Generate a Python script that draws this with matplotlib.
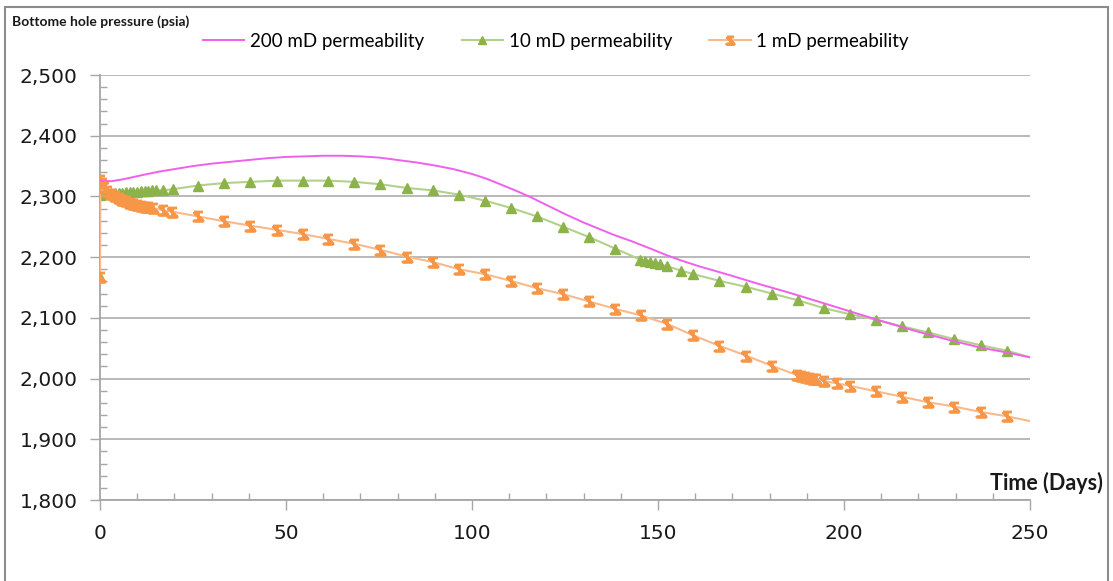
import matplotlib
matplotlib.use('Agg')
import matplotlib.pyplot as plt
from matplotlib.path import Path
from matplotlib.patches import Rectangle
from matplotlib.ticker import MultipleLocator, FuncFormatter

# 200 mD permeability (smooth line, no markers)
k200_days = [0, 3, 6, 9, 12, 16, 20, 25, 30, 35, 40, 45, 50, 55, 60, 65, 70,
             75, 80, 85, 90, 95, 100, 104, 108, 112, 116, 120, 125, 130, 134,
             138, 143, 148, 152, 156, 161, 165, 170, 177, 185, 193, 202, 211,
             220, 228, 236.7, 243.7, 250]
k200_psia = [2326, 2325, 2328, 2332, 2336, 2341, 2345, 2350, 2354, 2357,
             2360, 2363, 2365, 2366, 2367, 2367, 2366, 2364, 2360, 2356,
             2351, 2345, 2337, 2329, 2319, 2309, 2298, 2286, 2271, 2257,
             2247, 2237, 2226, 2214, 2204, 2195, 2185, 2178, 2169, 2156,
             2142, 2127, 2110, 2093, 2077, 2064, 2051, 2043, 2035]

# 10 mD permeability
k10_days = [0, 0, 1, 2, 3, 4, 5, 6, 7, 8, 9, 10, 11, 12, 13, 14, 15, 17, 19.7,
            26.4, 33.4, 40.3, 47.5, 54.5, 61.4, 68.4, 75.4, 82.4, 89.4, 96.5,
            103.5, 110.5, 117.5, 124.5, 131.5, 138.5, 145.2, 146.5, 147.9,
            149.2, 150.5, 152.4, 156.2, 159.5, 166.5, 173.7, 180.6, 187.6,
            194.6, 201.6, 208.6, 215.6, 222.6, 229.6, 236.7, 243.7, 250]
k10_psia = [2168, 2303, 2304, 2305, 2305, 2305, 2306, 2306, 2307, 2307, 2308,
            2308, 2309, 2309, 2309, 2310, 2310, 2310, 2312,
            2318, 2322, 2324, 2326, 2326, 2326, 2324, 2320, 2314, 2310, 2303,
            2293, 2281, 2267, 2250, 2233, 2214, 2196, 2194, 2192,
            2190, 2188, 2185, 2178, 2172, 2161, 2151, 2140, 2129,
            2116, 2106, 2097, 2086, 2076, 2065, 2055, 2046, 2035]

# 1 mD permeability
k1_days = [0, 0.1, 0.5, 1, 2, 3, 4, 5, 6, 7, 8, 9, 10, 11, 12, 13, 14.3, 17,
           19.4, 26.4, 33.4, 40.3, 47.5, 54.5, 61.4, 68.4, 75.4, 82.4, 89.4,
           96.6, 103.5, 110.4, 117.4, 124.5, 131.5, 138.4, 145.4, 152.5,
           159.5, 166.5, 173.6, 180.6, 187.3, 188.4, 189.5, 190.6, 191.6,
           192.6, 194.6, 198.2, 201.6, 208.6, 215.6, 222.6, 229.6, 236.7,
           243.7, 250]
k1_psia = [2168, 2327, 2322, 2316, 2309, 2304, 2300, 2297, 2294, 2292, 2290,
           2288, 2286, 2284, 2283, 2282, 2281, 2277,
           2275, 2267, 2259, 2252, 2245, 2238, 2230, 2222, 2212, 2201, 2192,
           2180, 2172, 2161, 2149, 2139, 2127, 2115, 2104, 2090,
           2071, 2054, 2038, 2021, 2006, 2005, 2003, 2001, 2000,
           1999, 1996, 1992, 1988, 1979, 1970, 1961, 1954, 1945,
           1938, 1930]

# маркер "звезда" в стиле Excel: песочные часы
star = Path([(-1, 1), (1, 1), (-1, 1), (1, -1), (-1, -1), (1, -1), (-1, 1),
             (0, 1), (0, -1)],
            [Path.MOVETO, Path.LINETO, Path.MOVETO, Path.LINETO, Path.LINETO,
             Path.LINETO, Path.LINETO, Path.MOVETO, Path.LINETO])

fig = plt.figure(figsize=(11.13, 5.81), dpi=100, facecolor='white')
ax = fig.add_axes([100 / 1113, 1 - 500 / 581, 930 / 1113, 425 / 581])

ax.plot(k10_days, k10_psia, color='#B3D18A', lw=1.5, marker='^', ms=7,
        mfc='#8CB34A', mec='#8CB34A', markevery=slice(0, -1),
        label='10 mD permeability', zorder=3)
ax.plot(k1_days, k1_psia, color='#FAB98A', lw=1.5, marker=star, ms=6.5,
        mfc='none', mec='#F79646', mew=2.0, markevery=slice(0, -1),
        label='1 mD permeability', zorder=4)
ax.plot(k200_days, k200_psia, color='#F060EC', lw=1.4,
        label='200 mD permeability', zorder=5)

ax.set_xlim(0, 250)
ax.set_ylim(1800, 2500)
ax.xaxis.set_major_locator(MultipleLocator(50))
ax.xaxis.set_minor_locator(MultipleLocator(10))
ax.yaxis.set_major_locator(MultipleLocator(100))
ax.yaxis.set_minor_locator(MultipleLocator(20))
ax.yaxis.set_major_formatter(FuncFormatter(lambda v, p: f"{v:,.0f}"))

ax.grid(axis='y', which='major', color='#A6A6A6', lw=1.1)
ax.set_axisbelow(True)
for s in ['top', 'right']:
    ax.spines[s].set_visible(False)
for s in ['left', 'bottom']:
    ax.spines[s].set_color('#A6A6A6')
    ax.spines[s].set_linewidth(1.3)

ax.tick_params(axis='both', which='major', direction='out', length=7,
               width=1, color='#A6A6A6', labelsize=14.5, labelcolor='#1a1a1a')
ax.tick_params(axis='y', which='major', pad=9)
ax.tick_params(axis='x', which='major', pad=10)
ax.tick_params(axis='both', which='minor', direction='in', length=5,
               width=1, color='#A6A6A6')

fig.text(12 / 1113, 1 - 22 / 581, 'Bottome hole pressure (psia)',
         family='Lato', fontweight='bold', fontsize=10, va='center',
         ha='left', color='#1a1a1a')
fig.text(1103 / 1113, 1 - 483 / 581, 'Time (Days)', family='Lato',
         fontweight='bold', fontsize=15.5, va='center', ha='right',
         color='#1a1a1a')

h, l = ax.get_legend_handles_labels()
order = [2, 0, 1]
fig.legend([h[i] for i in order], [l[i] for i in order], loc='center',
           bbox_to_anchor=(556 / 1113, 1 - 41 / 581), ncol=3, frameon=False,
           prop={'family': 'Lato', 'size': 13.5}, handlelength=2.2,
           columnspacing=2.0, handletextpad=0.3, markerscale=0.8)

fig.patches.append(Rectangle((5 / 1113, -0.1), 1103 / 1113, 1.1 - 7 / 581,
                             transform=fig.transFigure, fill=False,
                             edgecolor='#8C8C8C', lw=1.5))

fig.savefig('out.png', dpi=100, facecolor='white')
